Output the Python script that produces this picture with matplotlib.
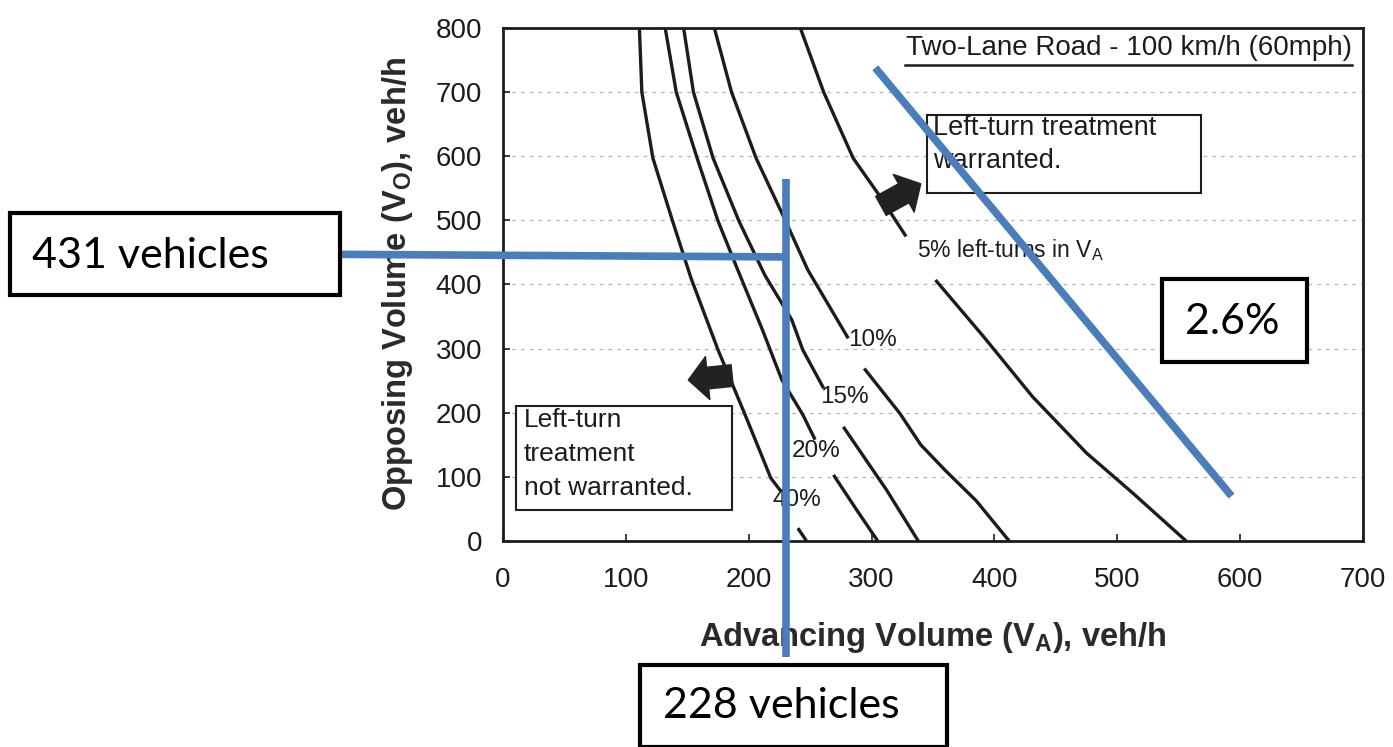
import matplotlib.pyplot as plt
from matplotlib.patches import Rectangle

plt.rcParams['font.family'] = ['Liberation Sans', 'DejaVu Sans']
plt.rcParams['mathtext.default'] = 'regular'

# ---------------------------------------------------------------------------
# Data: advancing volume V_A (x) vs opposing volume V_O (y), veh/h
# each curve is split in two where its label breaks the line
# ---------------------------------------------------------------------------
va_40_a = [111, 113, 122, 138, 153, 175, 197, 218, 226]
vo_40_a = [800, 700, 597, 499, 410, 298, 197, 98, 78]
va_40_b = [240, 247]
vo_40_b = [20, 0]

va_20_a = [132, 141, 158, 175, 191, 211, 227, 244, 254]
vo_20_a = [800, 700, 597, 499, 423, 330, 251, 197, 158]
va_20_b = [269, 288, 305]
vo_20_b = [103, 48, 0]

va_15_a = [147, 155, 171, 192, 213, 235, 244, 261]
vo_15_a = [800, 700, 597, 499, 415, 345, 298, 238]
va_15_b = [277, 312, 338]
vo_15_b = [178, 80, 0]

va_10_a = [172, 186, 206, 230, 248, 281]
vo_10_a = [800, 700, 597, 499, 423, 316]
va_10_b = [294, 323, 340, 360, 385, 412]
vo_10_b = [269, 199, 150, 110, 63, 0]

va_5_a = [242, 261, 285, 307, 328]
vo_5_a = [800, 700, 597, 537, 475]
va_5_b = [352, 391, 431, 475, 513, 556]
vo_5_b = [407, 319, 225, 137, 74, 0]

segments = [(va_40_a, vo_40_a), (va_40_b, vo_40_b),
            (va_20_a, vo_20_a), (va_20_b, vo_20_b),
            (va_15_a, vo_15_a), (va_15_b, vo_15_b),
            (va_10_a, vo_10_a), (va_10_b, vo_10_b),
            (va_5_a, vo_5_a), (va_5_b, vo_5_b)]

pct_labels = ['10%', '15%', '20%', '40%']
pct_x = [301, 278, 254.5, 239]
pct_y = [314, 224, 141, 64]

x_ticks = [0, 100, 200, 300, 400, 500, 600, 700]
y_ticks = [0, 100, 200, 300, 400, 500, 600, 700, 800]

# worked example
read_va = 228
read_vo = 431
read_pct = '2.6%'

ink = '#1c1c1c'
blue = '#4a7ebb'

# ---------------------------------------------------------------------------
# Figure
# ---------------------------------------------------------------------------
fig = plt.figure(figsize=(13.93, 7.47), dpi=100)
ax = fig.add_axes([0.3611, 0.2758, 0.6174, 0.6867])

for xs, ys in segments:
    ax.plot(xs, ys, color=ink, lw=2.4, solid_capstyle='butt', solid_joinstyle='round')

for lab, x, y in zip(pct_labels, pct_x, pct_y):
    ax.text(x, y, lab, fontsize=17.5, color=ink, ha='center', va='center')

ax.set_xlim(0, 700)
ax.set_ylim(0, 800)
ax.set_xticks(x_ticks)
ax.set_yticks(y_ticks)
ax.tick_params(axis='both', direction='in', length=5, width=1.2, labelsize=20,
               labelcolor=ink, color=ink)
ax.tick_params(axis='x', pad=18.5)
ax.tick_params(axis='y', pad=15)
ax.yaxis.grid(True, linestyle=(0, (3, 4)), color='#b5b5b5', lw=0.9)
for sp in ax.spines.values():
    sp.set_linewidth(2)
    sp.set_color(ink)

ax.set_xlabel('Advancing Volume (V$_A$), veh/h', fontsize=23.5, fontweight='bold', color='#2a2a2a')
ax.set_ylabel('Opposing Volume (V$_O$), veh/h', fontsize=23.5, fontweight='bold', color='#2a2a2a')
ax.xaxis.set_label_coords(0.5, -0.155)
ax.yaxis.set_label_coords(-0.102, 0.5)

# title inside the frame, underlined
ax.text(691, 758, 'Two-Lane Road - 100 km/h (60mph)', fontsize=20, color=ink,
        ha='right', va='baseline')
ax.plot([327, 691], [742.5, 742.5], color=ink, lw=1.8)

ax.text(337, 443, '5% left-turns in V$_A$', fontsize=16.5, color=ink, va='baseline')

# region boxes
ax.add_patch(Rectangle((345, 543), 223, 121, fill=True, facecolor='white',
                       edgecolor=ink, lw=1.5, zorder=3))
ax.text(350, 633, 'Left-turn treatment', fontsize=19.5, color=ink, va='baseline', zorder=4)
ax.text(350, 582, 'warranted.', fontsize=19.5, color=ink, va='baseline', zorder=4)

ax.add_patch(Rectangle((10.6, 48.4), 176, 162.2, fill=True, facecolor='white',
                       edgecolor=ink, lw=1.5, zorder=3))
for txt, yb in zip(['Left-turn', 'treatment', 'not warranted.'], [178, 124, 72]):
    ax.text(17, yb, txt, fontsize=19, color=ink, va='baseline', zorder=4)

# block arrows
arrow_style = 'simple,head_length=0.7,head_width=1.55,tail_width=0.78'
ax.annotate('', xy=(340, 557), xytext=(307.6, 522.6),
            arrowprops=dict(arrowstyle=arrow_style, color='#222222',
                            shrinkA=0, shrinkB=0, mutation_scale=20))
ax.annotate('', xy=(150.8, 251), xytext=(186.5, 258),
            arrowprops=dict(arrowstyle=arrow_style, color='#222222',
                            shrinkA=0, shrinkB=0, mutation_scale=20))

# ---------------------------------------------------------------------------
# Overlay: reading the chart
# ---------------------------------------------------------------------------
ax.plot([-133, read_va + 2], [447, 443], color=blue, lw=5.5, clip_on=False, zorder=6,
        solid_capstyle='butt')
ax.plot([read_va + 2, read_va + 2], [565, -181], color=blue, lw=5.5, clip_on=False, zorder=6,
        solid_capstyle='butt')
ax.plot([303, 593], [738, 70], color=blue, lw=5.5, clip_on=False, zorder=6,
        solid_capstyle='butt')

box_font = ['Lato', 'DejaVu Sans']
ax.add_patch(Rectangle((-401, 384), 268, 128, facecolor='white', edgecolor='black',
                       lw=3, clip_on=False, zorder=7))
ax.text(-383, 445, f'{read_vo} vehicles', fontsize=31, family=box_font, color='black',
        va='center', ha='left', zorder=8, clip_on=False)

ax.add_patch(Rectangle((111.5, -321.4), 250, 128, facecolor='white', edgecolor='black',
                       lw=3, clip_on=False, zorder=7))
ax.text(130, -257, f'{read_va} vehicles', fontsize=31, family=box_font, color='black',
        va='center', ha='left', zorder=8, clip_on=False)

ax.add_patch(Rectangle((536, 279.3), 118, 129.4, facecolor='white', edgecolor='black',
                       lw=3, clip_on=False, zorder=7))
ax.text(555, 342, read_pct, fontsize=31, family=box_font, color='black',
        va='center', ha='left', zorder=8, clip_on=False)

fig.savefig('out.png', dpi=100)
